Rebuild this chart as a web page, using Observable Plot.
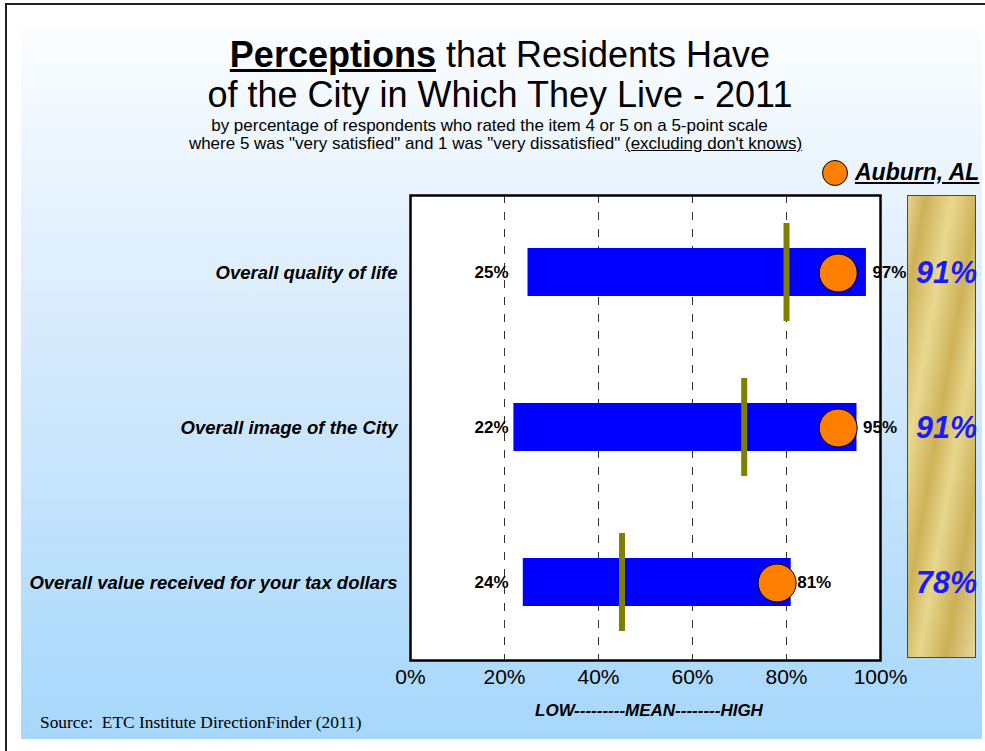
<!DOCTYPE html>
<html>
<head>
<meta charset="utf-8">
<script src="https://cdn.jsdelivr.net/npm/d3@7"></script>
<script src="https://cdn.jsdelivr.net/npm/@observablehq/plot@0.6"></script>
<style>
  html, body { margin: 0; padding: 0; background: #fff; overflow: hidden; }
  #page { position: relative; width: 985px; height: 751px; background: #fff; font-family: "Liberation Sans", Arial, sans-serif; }
  .abs { position: absolute; }
  #topline { left: 5px; top: 3px; width: 980px; height: 2px; background: #222; }
  #leftline { left: 5px; top: 3px; width: 2px; height: 748px; background: #222; }
  #bg { left: 21px; top: 28px; width: 961px; height: 711px; background: linear-gradient(to bottom, #fbfdff 0%, #e2f0fd 30%, #c4e3fc 65%, #a6d7fb 100%); }
  .line { white-space: nowrap; text-align: center; line-height: 1; color: #000; }
  #t1 { left: 0; width: 1000px; top: 37px; font-size: 36px; }
  #t2 { left: 0; width: 1000px; top: 77px; font-size: 36px; }
  #s1 { left: 0; width: 979px; top: 117px; font-size: 17px; }
  #s2 { left: 0; width: 991px; top: 135px; font-size: 17px; }
  #legdot { left: 822px; top: 160px; width: 26px; height: 26px; border-radius: 50%; background: #ff8000; border: 1px solid #000; box-sizing: border-box; }
  #legtxt { left: 855px; top: 161px; font-size: 23px; font-weight: bold; font-style: italic; text-decoration: underline; white-space: nowrap; line-height: 1; }
  #gold { left: 907px; top: 195px; width: 69px; height: 463px; box-sizing: border-box; border: 1px solid #4a4a3a;
    background: linear-gradient(100deg, #e6d58e 0%, #cdb158 12%, #e8d98f 30%, #ceb259 48%, #e7d78c 62%, #ccb057 80%, #e6d69a 100%); }
  #chart { left: 0; top: 160px; }
  #xlabel { left: 0; width: 1298px; top: 702px; font-size: 17px; font-weight: bold; font-style: italic; }
  #source { left: 40px; top: 714px; font-family: "Liberation Serif", "Times New Roman", serif; font-size: 17.4px; white-space: nowrap; line-height: 1; }
</style>
</head>
<body>
<div id="page">
  <div id="bg" class="abs"></div>
  <div id="topline" class="abs"></div>
  <div id="leftline" class="abs"></div>
  <div id="t1" class="abs line"><b style="text-decoration: underline;">Perceptions</b> that Residents Have</div>
  <div id="t2" class="abs line">of the City in Which They Live - 2011</div>
  <div id="s1" class="abs line">by percentage of respondents who rated the item 4 or 5 on a 5-point scale</div>
  <div id="s2" class="abs line">where 5 was "very satisfied" and 1 was "very dissatisfied" <span style="text-decoration: underline;">(excluding don't knows)</span></div>
  <div id="legdot" class="abs"></div>
  <div id="legtxt" class="abs">Auburn, AL</div>
  <div id="gold" class="abs"></div>
  <div id="chart" class="abs"></div>
  <div id="xlabel" class="abs line">LOW---------MEAN--------HIGH</div>
  <div id="source" class="abs">Source:&nbsp; ETC Institute DirectionFinder (2011)</div>
</div>
<script>
const categories = ["Overall quality of life", "Overall image of the City", "Overall value received for your tax dollars"];
const lowValues = [25, 22, 24];
const highValues = [97, 95, 81];
const meanValues = [80, 71, 45];
const auburnValues = [91, 91, 78];
const xTicks = [0, 20, 40, 60, 80, 100];
const gridTicks = [20, 40, 60, 80];

const rows = categories.map((c, i) => ({
  category: c, low: lowValues[i], high: highValues[i], mean: meanValues[i], auburn: auburnValues[i]
}));

const chart = Plot.plot({
  width: 985,
  height: 591,
  marginTop: 35,
  marginBottom: 91,
  marginLeft: 410,
  marginRight: 105,
  style: { background: "transparent", fontFamily: "'Liberation Sans', Arial, sans-serif", color: "#000" },
  x: { domain: [0, 100] },
  y: { type: "band", domain: categories, padding: 0 },
  marks: [
    Plot.frame({ fill: "white" }),
    Plot.ruleX(gridTicks, { x: d => d, stroke: "#333", strokeWidth: 1, strokeDasharray: "8,9" }),
    Plot.barX(rows, { y: "category", x1: "low", x2: "high", fill: "#0000ff", insetTop: 53, insetBottom: 54 }),
    Plot.tickX(rows, { x: "mean", y: "category", stroke: "#808000", strokeWidth: 6, insetTop: 28, insetBottom: 29 }),
    Plot.dot(rows, { x: "auburn", y: "category", r: 19, fill: "#ff8000", stroke: "#000", strokeWidth: 1 }),
    Plot.text(rows, { frameAnchor: "left", y: "category", text: d => d.low + "%", dx: 98, textAnchor: "end", fontWeight: "bold", fontSize: 17, fill: "#000" }),
    Plot.text(rows, { x: "high", y: "category", text: d => d.high + "%", dx: 6, textAnchor: "start", fontWeight: "bold", fontSize: 17, fill: "#000" }),
    Plot.text(rows, { frameAnchor: "right", y: "category", text: d => d.auburn + "%", dx: 66, textAnchor: "middle", fontWeight: "bold", fontStyle: "italic", fontSize: 30.5, fill: "#1a1aff" }),
    Plot.frame({ stroke: "#000", strokeWidth: 2.5 }),
    Plot.axisX({ ticks: xTicks, tickFormat: d => d + "%", tickSize: 0, tickPadding: 9, fontSize: 21, label: null }),
    Plot.axisY({ tickSize: 0, tickPadding: 13, fontSize: 18.5, fontWeight: "bold", fontStyle: "italic", label: null })
  ]
});
document.getElementById("chart").appendChild(chart);
</script>
</body>
</html>
